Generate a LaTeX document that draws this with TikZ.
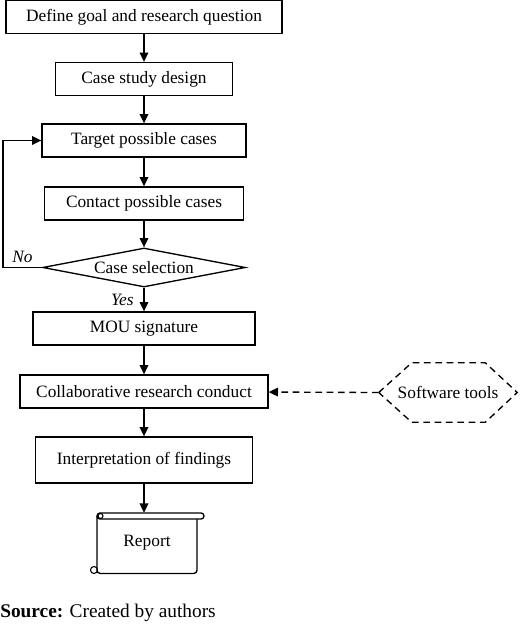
\documentclass[tikz,border=0pt]{standalone}
\usepackage{fontspec}
\setmainfont{Liberation Serif}
\usetikzlibrary{arrows.meta, shapes.geometric, positioning}

\begin{document}
\begin{tikzpicture}[x=0.75pt,y=-0.75pt,
        font=\fontsize{13}{15.6}\selectfont,
        stepbox/.style={draw, line width=1pt, rectangle, inner sep=2pt, minimum height=24.75pt},
        choice/.style={draw, line width=1pt, diamond, aspect=5.2, inner sep=0pt, minimum width=152pt, minimum height=29.25pt},
        hexdash/.style={line width=1pt, dash pattern=on 5pt off 3.5pt},
        flow/.style={line width=1pt, -{Triangle[length=7pt,width=6.5pt]}}]

        \useasboundingbox (0,0) rectangle (520,625);

        % Main column
        \node[stepbox, minimum width=207pt] (goal) at (144,17) {Define goal and research question};
        \node[stepbox, minimum width=132.75pt] (design) at (144,79) {Case study design};
        \node[stepbox, minimum width=153pt] (target) at (144,140.5) {Target possible cases};
        \node[stepbox, minimum width=149.25pt] (contact) at (144,203.5) {Contact possible cases};
        \node[choice] (select) at (144,267.5) {Case selection};
        \node[stepbox, minimum width=166.5pt] (mou) at (144,328.5) {MOU signature};
        \node[stepbox, minimum width=186pt] (conduct) at (144,391.5) {Collaborative research conduct};
        \node[stepbox, minimum width=162.75pt, minimum height=34.5pt] (findings) at (144,460) {Interpretation of findings};
        \node[rectangle, minimum width=75pt, minimum height=45pt] (report) at (147,543) {Report};

        % Software tools on the right
        \node[rectangle, inner sep=0pt, minimum width=103.5pt, minimum height=44.25pt] (tools) at (448,392.5) {Software tools};
        \draw[hexdash] (tools.west) -- ([xshift=24.75pt]tools.north west) -- ([xshift=-24pt]tools.north east)
            -- (tools.east) -- ([xshift=-24pt]tools.south east) -- ([xshift=24.75pt]tools.south west) -- cycle;

        % Arrows
        \draw[flow] (goal) -- (design);
        \draw[flow] (design) -- (target);
        \draw[flow] (target) -- (contact);
        \draw[flow] (contact) -- (select);
        \draw[flow] (select) -- node[left=4pt, font=\fontsize{13}{15.6}\itshape] {Yes} (mou);
        \draw[flow] (mou) -- (conduct);
        \draw[flow] (conduct) -- (findings);
        \draw[flow] (findings) -- (findings.south |- report.north);
        \draw[flow, dash pattern=on 5pt off 3.5pt] (tools.west) -- (conduct);

        % Loop back on No
        \coordinate (back) at (3,267.5);
        \draw[flow] (select.west) -- node[above, pos=0.5, font=\fontsize{13}{15.6}\itshape] {No} (back) |- (target.west);

        % Scroll round the report
        \draw[line width=1pt, rounded corners=2.2pt] (97,513) rectangle (204,519);
        \draw[line width=1pt, rounded corners=2.5pt] (97,516) -- (97,573.5) -- (197,573.5) -- (197,519);
        \draw[line width=0.8pt] (100.5,516) circle[radius=2.5];
        \draw[line width=0.8pt] (94,570) circle[radius=3.5];

        % Source line
        \node[anchor=west, inner sep=0pt, font=\fontsize{14.5}{17}\selectfont] (source) at (0,613)
            {\textbf{Source:} Created by authors};

    \end{tikzpicture}
\end{document}
